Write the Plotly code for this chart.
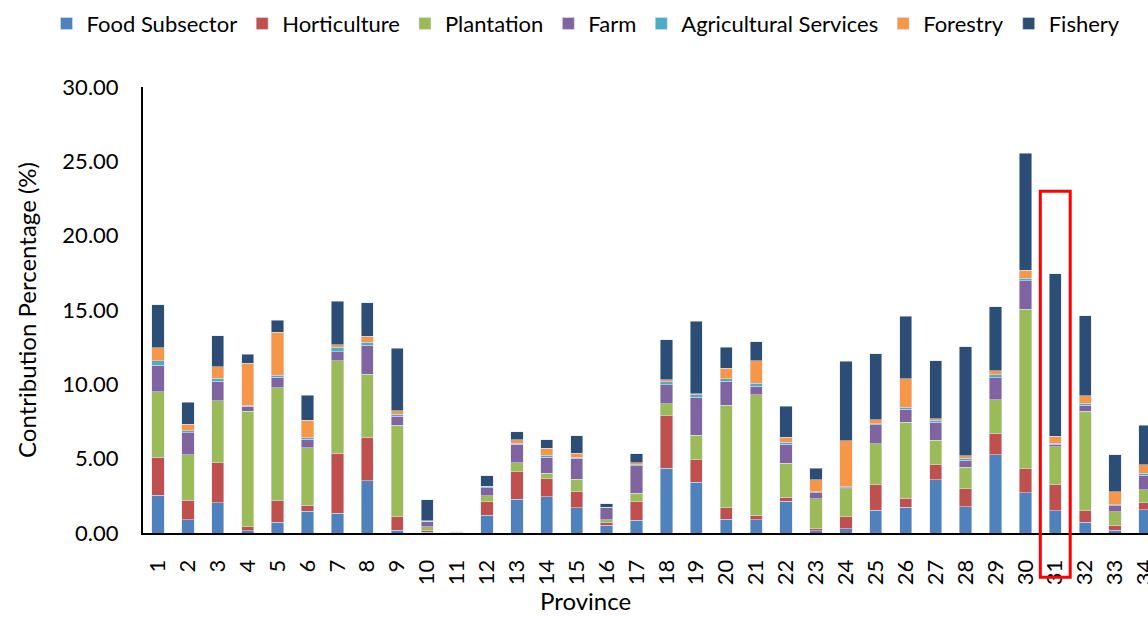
import plotly.graph_objects as go

provinces = list(range(1, 35))

food_subsector = [2.54, 0.88, 2.02, 0.16, 0.72, 1.46, 1.33, 3.51, 0.20, 0.05,
                  0.02, 1.21, 2.27, 2.45, 1.71, 0.52, 0.85, 4.34, 3.42, 0.92,
                  0.88, 2.14, 0.16, 0.27, 1.53, 1.73, 3.57, 1.77, 5.26, 2.72,
                  1.51, 0.74, 0.20, 1.55]
horticulture = [2.54, 1.32, 2.72, 0.26, 1.46, 0.41, 4.02, 2.92, 0.90, 0.10,
                0.01, 0.90, 1.84, 1.21, 1.10, 0.18, 1.26, 3.55, 1.52, 0.79,
                0.31, 0.27, 0.15, 0.83, 1.73, 0.61, 1.02, 1.22, 1.40, 1.60,
                1.75, 0.77, 0.32, 0.49]
plantation = [4.43, 3.06, 4.16, 7.76, 7.60, 3.86, 6.23, 4.24, 6.16, 0.27,
              0.02, 0.38, 0.61, 0.37, 0.81, 0.20, 0.57, 0.79, 1.62, 6.87,
              8.12, 2.29, 2.00, 1.87, 2.76, 5.12, 1.66, 1.44, 2.29, 10.72,
              2.54, 6.67, 0.92, 0.88]
farm = [1.77, 1.50, 1.30, 0.34, 0.69, 0.56, 0.60, 1.96, 0.58, 0.34,
        0.01, 0.55, 1.24, 1.07, 1.42, 0.79, 1.86, 1.28, 2.56, 1.62,
        0.56, 1.28, 0.41, 0.07, 1.26, 0.86, 1.19, 0.45, 1.48, 1.93,
        0.16, 0.40, 0.40, 0.97]
agricultural_services = [0.29, 0.12, 0.20, 0.06, 0.14, 0.12, 0.32, 0.20, 0.16, 0.02,
                         0.00, 0.06, 0.09, 0.14, 0.06, 0.02, 0.05, 0.22, 0.19, 0.16,
                         0.22, 0.14, 0.04, 0.07, 0.07, 0.13, 0.13, 0.16, 0.20, 0.16,
                         0.09, 0.16, 0.07, 0.14]
forestry = [0.88, 0.45, 0.79, 2.84, 2.90, 1.16, 0.16, 0.39, 0.21, 0.03,
            0.00, 0.03, 0.22, 0.47, 0.27, 0.03, 0.13, 0.14, 0.06, 0.72,
            1.51, 0.31, 0.81, 3.10, 0.27, 1.93, 0.12, 0.15, 0.27, 0.54,
            0.45, 0.50, 0.85, 0.56]
fishery = [2.92, 1.46, 2.09, 0.60, 0.81, 1.69, 2.92, 2.27, 4.22, 1.44,
           0.03, 0.72, 0.54, 0.56, 1.17, 0.24, 0.61, 2.67, 4.88, 1.42,
           1.26, 2.11, 0.79, 5.33, 4.45, 4.21, 3.91, 7.35, 4.32, 7.87,
           10.94, 5.39, 2.52, 2.67]

series = [
    ("Food Subsector", food_subsector, "#4F81BD"),
    ("Horticulture", horticulture, "#C0504D"),
    ("Plantation", plantation, "#9BBB59"),
    ("Farm", farm, "#8064A2"),
    ("Agricultural Services", agricultural_services, "#4BACC6"),
    ("Forestry", forestry, "#F79646"),
    ("Fishery", fishery, "#2C4D75"),
]

FONT = "Lato"

fig = go.Figure()
for name, values, color in series:
    fig.add_trace(go.Bar(
        x=provinces, y=values, name=name,
        marker=dict(color=color, line=dict(color="rgba(220,228,240,0.7)", width=0.75)),
    ))

# highlight box around province 31
fig.add_shape(type="rect", xref="x", yref="paper",
              x0=30.5, x1=31.5, y0=-0.099, y1=0.766,
              line=dict(color="#FF0000", width=3), fillcolor="rgba(0,0,0,0)")

# x-axis title
fig.add_annotation(text="Province", xref="paper", yref="paper",
                   x=0.44, y=-0.1882, xanchor="center", yanchor="bottom",
                   showarrow=False, font=dict(family=FONT, size=24, color="black"))

fig.update_layout(
    barmode="stack",
    bargap=0.59,
    width=1148, height=617,
    margin=dict(l=143, r=0, t=87, b=84, autoexpand=False),
    paper_bgcolor="white", plot_bgcolor="white",
    font=dict(family=FONT, size=22, color="black"),
    legend=dict(orientation="h", x=-0.096, xanchor="left", y=1.142, yanchor="middle",
                font=dict(family=FONT, size=22), traceorder="normal",
                itemwidth=30, bgcolor="rgba(0,0,0,0)"),
    xaxis=dict(range=[0.5, 34.1], tickmode="linear", dtick=1, tick0=1,
               tickangle=-90, showline=True, linecolor="black", linewidth=2,
               showgrid=False, zeroline=False, ticks="", ticklabelstandoff=16,
               ticklabeloverflow="allow", automargin=False),
    yaxis=dict(range=[0, 30], dtick=5, tickformat=".2f", showline=True,
               linecolor="black", linewidth=2, showgrid=False, zeroline=False,
               ticks="", ticklabelstandoff=18, automargin=False,
               title=dict(text="Contribution Percentage (%)", standoff=19,
                          font=dict(size=24))),
)

fig.write_html("out.html")
